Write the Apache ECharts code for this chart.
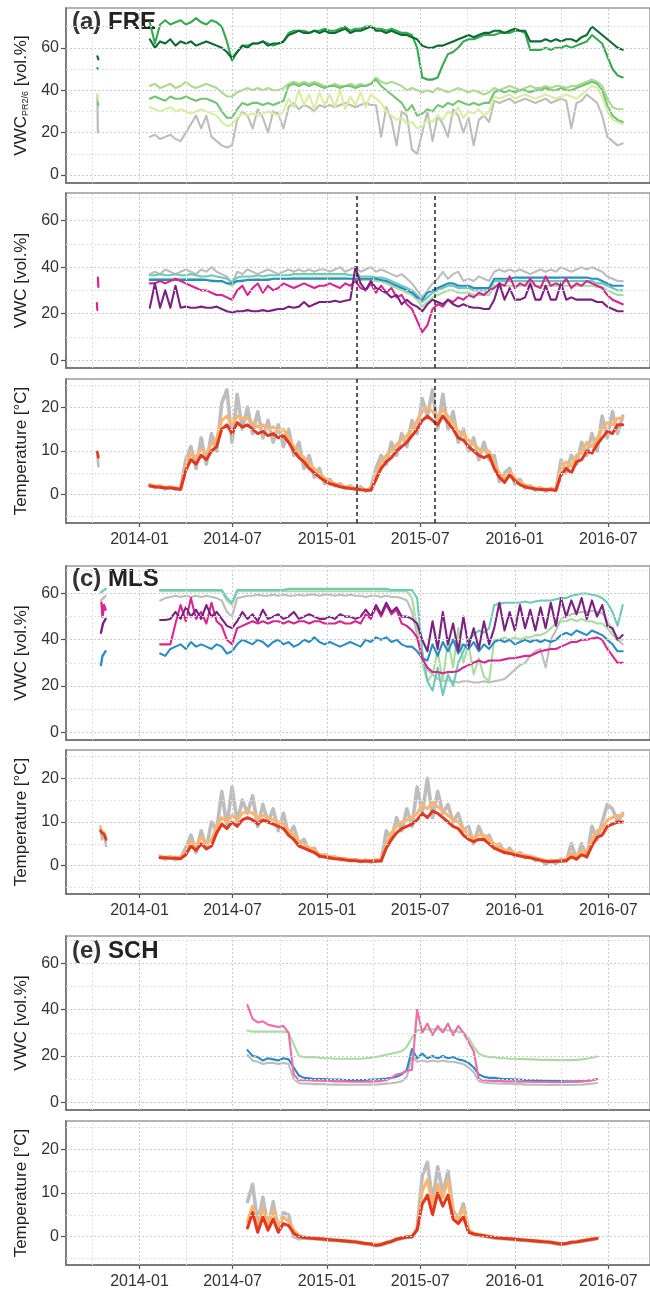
<!DOCTYPE html>
<html>
<head>
<meta charset="utf-8">
<script src="https://cdn.jsdelivr.net/npm/echarts@6/dist/echarts.min.js"></script>
<style>
  html, body { margin: 0; padding: 0; background: #ffffff; }
  #chart { width: 650px; height: 1295px; }
</style>
</head>
<body>
<div id="chart"></div>
<script>
// Soil moisture and soil temperature at three sites (FRE, MLS, SCH).
// Main records are sampled every 10 days starting on START.
const START = '2014-01-21';
const STEP_DAYS = 10;

// axis ticks and grid
const X_MAJOR = ['2014-01-01', '2014-07-01', '2015-01-01', '2015-07-01', '2016-01-01', '2016-07-01'];
const X_MINOR = ['2013-10-01', '2014-04-01', '2014-10-01', '2015-04-01', '2015-10-01', '2016-04-01'];
const X_RANGE = ['2013-08-11', '2016-09-20'];
const VWC_TICKS = [0, 20, 40, 60];
const VWC_MINOR = [10, 30, 50, 70];
const TEMP_TICKS = [0, 10, 20];
const TEMP_MINOR = [-5, 5, 15, 25];
const CAMPAIGN_DATES = ['2015-02-28', '2015-07-30'];

// ---- (a) FRE, VWC PR2/6 probe (start index 0) ----
const frePR_dark = [64,60,63,62,64,61,63, 62,63,61,62,63,62, 61,60,58,55, 58,61,60,62, 62,63,61,62,62,63, 66,67,68,67,67,68,67, 68,67,67,68,69,67,68, 68,69,70,68,68,67,68, 67,66,66,65,64, 61,60,60,61,61, 62,63,64, 65,66,65,66,67,67, 68,68,67,68,69,68,68, 63,63,63,64,63,64,63,64,64,63, 65,66,70,68,66, 64,62,60,59];
const frePR_green = [72,62,71, 73,71,72,73,71,72,74,72,71,73, 72,70,63,54, 58,61,61,62,62,63,62,61,62,63, 67,68,68,68,67,68,68, 69,68,68,69,70,68,69, 69,70,70,69,69,68,69, 68,67,67,66,60, 46,45,45,46,52, 57,58,60, 63,64,64,65,66,66, 66,67,67,67,68,68,67, 59,59,59,60,59,60,60,61,60,61, 62,63,66,64,62, 56,50,47,46];
const frePR_light = [42,43,41,42,43,41,42,44,42,41,42,43,42, 41,39,37,37,39, 40,41,40,41,40,41,40,40,41, 43,44,43,44,43,44,43, 42,42,43,42,42,43,42,43,42,43, 46,44,43,44, 43,42,40,41,40,39, 40,39,41,40,39,40,41,40,39,40,39,38,39, 41,40,41,42,41,40,41,42,41,41,42,41,42,42,41,42,42,43, 44,45,44,42, 36,32,31,31];
const frePR_mid = [36,37,36,35,37,36,36,37,36,35,36,36,35, 34,30,27,27,31, 34,33,34,34,33,34,33,34,35, 42,43,42,43,42,43,42, 41,42,42,41,42,42,41,42,42,43, 45,42,40,38, 36,34,30,33,28,29, 31,30,33,32,34,33,35,34,33,34,33,34,34, 39,40,39,40,39,40,40,39,40,40,41,40,40,41,40,40,41,42, 43,44,43,40, 33,28,26,25];
const frePR_yellow = [32,31,30,31,32,30,31,30,29,30,31,30,29, 28,25,23,24, 27,29,28,29,28,29,30,29,28,30, 36,32,40,33,38,31,39, 33,38,32,40,31,37,33,39,32,38, 36,34,30,28,26,27,24,25,22,23, 26,25,28,26,30,28,32,27,30,29,31,28,30, 37,36,37,38,36,37,38,37,36,37,38,37,36,37,38,37,36,38, 40,42,41,37, 30,26,25,24];
const frePR_gray = [18,19,17,18,19,17,16, 20,24,28,22,28,18, 16,14,13,14,26,30, 28,22,31,27,20,30,29,22, 32,34,31,33,32,30,33, 32,33,32,33,34,33,32,33,34,33, 33,18,32,26,14,30,28,12,10,20, 30,16,28,24,18,31,28,20,27,14,26,28,25, 35,34,35,36,34,35,36,35,34,35,36,34,35,36,35,22,34,35, 38,36,34,28, 18,16,14,15];
// short autumn 2013 record
const frePR_dark_2013 = [['2013-10-11', 56], ['2013-10-13', 54.5]];
const frePR_green_2013 = [['2013-10-11', 50.5], ['2013-10-12', 50]];
const frePR_yellow_2013 = [['2013-10-11', 38], ['2013-10-13', 36]];
const frePR_mid_2013 = [['2013-10-12', 34], ['2013-10-13', 33]];
const frePR_gray_2013 = [['2013-10-11', 38], ['2013-10-12', 20], ['2013-10-13', 21]];

// ---- FRE, VWC (start index 0) ----
const freV_gray = [37,38,37,39,38,37,38,39,38,37,39,38,40,38,37,36, 33, 38,37,39,38,37,38,39,38,37,38,39,38,39,38,39,38,39, 39,38,39,40,38,39,40,38,39,40,38,39, 38,37,36,37,35,33,30, 27,30,33,35, 38,35,37,38,34,35,34,36,35,34, 38,39,38,39,38,39,38,37,38,39,38,39,38,40,39,38,39,40,39,40,39,38, 36,35,34,34];
const freV_teal = [36.5,36.5,37,36.5,36.5,37,36.5,36.5,37,36.5,36,36,36.5,36,35.5,35, 33.5, 35.5,36,36,36,36.5,36,36.5,36.5,36.5,36.5, 36.5,37,37,37,37,37,37,37,37,37, 37,37,36.5,36.5,36,36,36,35.5,35.5, 35,34,33,32,31,30,28, 25,27,29,30, 31,32,32,31,31,31,30,30,30,30, 34,34,34,34,34,34,34,34,34,34, 34,34,34,34,34,34,34,34,34,34, 33,33, 32,31,30,30];
const freV_lgreen = [35,35,35,35,35,35,35,35,35,35,35,34.5,34.5,34,34,33,32, 34,34.5,34.5,34.5,35,34.5,35,35,35,35, 35,35.5,35.5,35.5,35.5,35.5,35.5,35.5,35.5,35.5, 35.5,35.5,35,35,34.5,34.5,34.5,34,34, 33,32,31,30,29,28,26, 23,25,27,28, 29,30,30,29,29,29,28,28,28,28, 32,32,32,32,32,32,32,32,32,32, 32,32,32,32,32,32,32,32,32,32, 31.5,31.5, 30,29,28,28];
const freV_blue = [34.5,34.5,34.5,34.5,34.5,34.5,34.5,34.5,34.5,34.5,34.5,34.5,34,34,34,33,33, 34,34,34.5,34.5,34.5,34.5,34.5,35,35,35, 35,35,35,35,35,35,35,35,35,35, 35,35,35,35,35,35,35,35,34.5, 34,33,32,31,30,29,27, 26,29,30,31, 32,33,33,32,32,32,31,31,31,31, 35,35,35,35, 35.5,35.5,35.5,35.5,35.5,35.5,35.5,35.5,35.5,35.5,35.5,35.5,35.5,35.5,35.5, 35,35,34, 33,32,32,32];
const freV_magenta = [33,33,34,33,34,35,34,33,32,31,30,30,29,28,28,27,26, 30,32,28,31,33,29,32,30,31,33,32,31,32,33,32,31,32, 32,33,32,31,33,32,34,31,30,33,29,32, 29,31,27,28,24,22,17, 12,15,22,24,23,26,25,27,26,28,27,29,28,30, 31,33,32,36,31,33,32,35,32,31,36,32,33,32,35,31,33,32,34,33,32,31, 28,26,25,24];
const freV_purple = [22.5,33,22.5,30,22.5,32,22.5,23,22.5,22.5,23,22.5,22.5,23,22,21,20.5, 21,21,21.5,21,21,21.5,21,21.5,22,22,23,22.5,23,25,23,24,25, 25,25,25.5,25,25.5,26,40,33,30,34,31,30, 29,27,28,24,26,24,23, 21,24,26,25, 24,26,24,23,24,23,22.5,22.5,22,22, 26,33,26,31,26,26,27,33,26,26,32,26,26,33,26,27,26,26,26,26,25,25, 23,22,21,21];
const freV_magenta_2013 = [['2013-10-12', 35.5], ['2013-10-13', 31.5], ['2013-10-14', null], ['2013-10-10', 24.5], ['2013-10-11', 21.6]];

// ---- FRE, soil temperature (start index 0) ----
const freT_red = [2.0,1.8,1.7,1.5,1.5,1.4,1.2,5.5,8,7, 9,8,10,11,15,16,14,16.5,15.5,16, 15,14,14.5,13.5,14,13,13.5,12,10,8.5, 7.5,6,5,4,3.2,2.5,2.2,1.8,1.6,1.4, 1.3,1.1,1.0,1.0,3.5,6,7.5,8.5,10,11, 12,13.5,15,17,18,17,16,18,16.5,15, 13,12.5,11,10,9,8.5,9,6,4,2.8, 4.5,3.2,2.3,1.8,1.5,1.3,1.2,1.1,1.1,1.0, 4.5,6,5,7.5,8,10,9.5,11.5,13,14.5, 14,16,16];
const freT_orange = [2.2,2.0,1.9,1.7,1.7,1.6,1.4,6.5,9.5,8.5, 10.5,9.5,11.5,13,17,18,16,18,17.5,17.5, 16.5,15.5,16,15,15.5,14.5,15,13,11,9.5, 8.5,7,6,4.8,3.8,3,2.5,2,1.8,1.6, 1.5,1.3,1.2,1.2,4.5,7.5,9,10,11.5,12.5, 13.5,15,17,19,20,19,17.5,19.5,18,16.5, 14.5,14,12.5,11.5,10.5,10,10,7,5,3.4, 5.2,3.8,2.8,2.2,1.8,1.5,1.4,1.3,1.3,1.2, 6,7.5,6.5,9,9.5,12,11,13,15,16.5, 16,17.5,17.5];
const freT_gray = [2.3,1.6,2.0,1.3,1.8,1.2,1.5,8,11,6, 13,7,14,10,21,24,12,23,15,20, 14,19,13,17,12,16,11,15,9,12, 6,9,4,6,2.5,3.5,2,2.5,1.5,2, 1.2,1.8,0.8,1.5,6,9,7,12,9,14, 11,17,14,22,18,24,15,23,15,19, 12,15,10,13,8,12,8,9,3,5, 6,2.5,3.5,1.5,2,1,1.6,0.8,1.4,0.9, 8,5,9,7,12,9,14,10,18,13, 19,14,18];
const freT_red_2013 = [['2013-10-11', 9.8], ['2013-10-13', 8.5]];
const freT_orange_2013 = [['2013-10-11', 9.5], ['2013-10-13', 8.8]];
const freT_gray_2013 = [['2013-10-11', 9], ['2013-10-13', 6.5]];

// ---- (c) MLS, VWC (start index 2) ----
const mlsV_gray = [57,58,58.5,59,58.5,59,58.5,59,58.5,59,58.5,58,57, 52,50, 58,58.5,59,59,59.5,59,59,59.5,59,59.5, 59,59,59.5,59,59.5,59.5,59,59.5,59.5,59, 59.5,59,59.5,59,59,58.5,59,59,58.5,59, 58.5,58.5,58,57, 52,42,32,27,25, 23,22,22.5,22,21.5,22,22,21.5,21.5,22,21.5, 22,22.5,23,25,27,29,30,33,35,36,28, 40,44,49,50,51,51.5,52,52,52.5,52,51.5, 48,44,40,38];
const mlsV_lgreen = [61,61,61,61,61,61,61,61,61,61, 61,61,61,57,55,61,61,61,61,61, 61,61,61,61,61,61,61,61,61,61, 61,61,61,61,61,61,61,61,61,61, 61,61,61,61,61,61,61,61,61, 58,45,30,22, 25,35,22,40,28,45,30,38,25,32,24,22, 40,40,41,40,41,40,41,41,42,42,43,45,47, 48,48,49,48,49,48,48,47,47, 45,42,40,40];
const mlsV_teal = [61.5,61.5,61.5,61.5,61.5,61.5,61.5,61.5,61.5,61.5,61.5,61.5,61.5, 58,56, 61.5,61.5,61.5,61.5,61.5,61.5,61.5,61.5,61.5,61.5, 62,62,62,62,62,62,62,62,62,62, 62,62,62,62,62,62,62,62,62,62, 61.5,61.5,61.5,61.5,61.5, 58,35,22, 18,28,16,25,20,30, 35,40,42,44,43,45, 55,55.5,56,56,56,56,56.5,56,56.5,57,57, 57,57.5,58,58,59,59.5,60,60,59.5,59,58, 56,52,46,55];
const mlsV_blue = [34,33,36, 37,38,36,39,37,38,37,36,38,37, 34,35, 38,40,39,38,40,39,37,39,40,38,39,37,38,40,39,41,39, 38,39,38,37,38,39,38,37, 40,39,41,40,41,39,40, 38,37,37,35, 32,31, 38,33,39,35,40,34,38,36,39,35,38,36, 39,40,39,40,38,39,40,39,40,39,40,39,40, 42,43,42,44,43,42,44,43,42, 40,38,35,35];
const mlsV_magenta = [38,38,38, 47,55,48,58,49,52,47,56,48,46, 40,38, 45,46,47,48,47,48,47,48,48,47,48,47,48,48,47,48,48, 47,47,47,48,47,47,48,47, 51,49,54,50,55,51,53, 47,46,44,41, 32,28, 26,26,25.5,26,26,26.5,28,29,30,31,30,31, 31,31,31.5,32,32,32.5,33,33,34,35,35.5,36,36, 37,38,39,39,40,40,40.5,41,40, 36,33,30,30];
const mlsV_purple = [48.5,48.5,49, 52,49,54,50,53,49,55,50,52,49, 46,45, 48,52,49,51,48,53,49,50,51,49,50,52,49,50,51,50,49, 49,50,49,51,50,50,49,50, 53,50,55,51,56,52,54, 50,50,49,47, 40,35, 48,36,52,38,47,35,50,37,45,36,48,38, 45,56,44,52,44,55,45,53,44,54,45,56,46, 58,50,57,51,58,49,57,50,55, 46,45,40,42];
const mlsV_teal_2013 = [['2013-10-18', 60.5], ['2013-10-27', 62]];
const mlsV_gray_2013 = [['2013-10-18', 57], ['2013-10-27', 59]];
const mlsV_magenta_2013 = [['2013-10-19', 56], ['2013-10-21', 50], ['2013-10-24', 55], ['2013-10-27', 53]];
const mlsV_purple_2013 = [['2013-10-18', 43], ['2013-10-22', 47], ['2013-10-27', 49]];
const mlsV_blue_2013 = [['2013-10-18', 29], ['2013-10-21', 33], ['2013-10-24', 34], ['2013-10-27', 35]];

// ---- MLS, soil temperature (start index 2) ----
const mlsT_red = [1.8,1.8,1.7,1.7,1.6,2.5,4.5,3.5,5,3.8, 4.5,7.5,9.5,8.5,10,9,10.5,11,10.5,9.5, 10.5,10,9.5,9,8.5,7,6,4.5,4,3.5, 3,2.2,2,1.8,1.6,1.5,1.3,1.2,1.1,1.0, 1.0,1.0,1.0,1.1,4,6,7.5,8.5,9,9.5, 10.5,12,11,12.5,12,11,10,9,8.5,7, 6,5.5,6,6,5,4,3.5,3,2.8,2.5, 2.2,2,1.8,1.5,1.2,1.0,0.9,1.0,1.0,1.2, 2,1.5,2.5,2,4.5,6.5,7,9,9.5,10, 10];
const mlsT_orange = [2,2,1.9,1.9,1.8,3,5.5,4.5,6.5,5, 6,9,11,10,11.5,10.5,12,12.5,12,11, 11.5,11,10.5,10,9.5,8,7,5.5,4.8,4.2, 3.5,2.6,2.3,2.1,1.9,1.7,1.5,1.4,1.3,1.2, 1.2,1.2,1.2,1.3,5,7.5,9,10,10.5,11, 12,14,13,14.5,13.5,12.5,11.5,10.5,10,8.5, 7,6.5,7,7,6,5,4.2,3.6,3.3,3, 2.6,2.4,2.1,1.8,1.4,1.2,1.1,1.2,1.2,1.5, 2.8,2,3.5,2.8,6,8,8.5,10.5,11,11.5, 11.5];
const mlsT_gray = [2.2,1.5,2.0,1.4,1.8,4,7,3,8,4, 10,8,17,9,18,10,15,12,16,9, 14,10,13,8,12,7,9,5,6,3.5, 4,2,2.5,1.6,2,1.3,1.6,1.1,1.4,0.9, 1.3,0.8,1.4,1,8,6,11,8,13,9, 18,12,20,11,17,12,14,10,12,8, 9,5,9,6,7,4,5,3,4,2.2, 3,1.8,2.2,1.2,1.5,0.3,1.2,0.5,1.5,1.0, 5,1.5,5,2,9,6,10,14,13,10, 12];
const mlsT_red_2013 = [['2013-10-17', 8], ['2013-10-20', 7.5], ['2013-10-24', 7.2], ['2013-10-28', 6]];
const mlsT_orange_2013 = [['2013-10-17', 8.5], ['2013-10-20', 8], ['2013-10-24', 7.6], ['2013-10-28', 6.5]];
const mlsT_gray_2013 = [['2013-10-17', 9], ['2013-10-20', 6], ['2013-10-24', 7.5], ['2013-10-28', 4.5]];

// ---- (e) SCH, VWC (start index 19) ----
const schV_gray = [20.5, 18,17.5,16.5,17,17,16.5,17,16.5, 10,8.2, 8,8,7.8,7.8,7.8,7.6,7.6,7.6,7.5,7.5,7.5,7.5,7.5,7.6,7.6,7.8,8,8.2, 8.5,9,11,20, 17.5,18,17.5,18,17.5,18,17.5,17.5,17,16.5, 15,13,9, 8.5,8.2,8.2,8,8,8,7.8,7.8,7.6,7.6,7.5,7.5,7.4,7.4,7.4,7.4,7.4,7.4,7.5,7.6,7.8,8,8.3];
const schV_lgreen = [31,30.5,30.5,30.5,30.5,30.5,30.5,30.5,30, 25,20, 19.5,19.5,19.5,19.2,19,19,18.8,18.8,18.8,18.8,18.8,18.8,19,19.2,19.5,20,20.5,21,21.5, 22,24,28, 31,31.5,31.5,31.5,31.5,31.5,31,31,30.5,30, 28,24,21, 20,19.5,19.5,19,19,18.8,18.8,18.6,18.6,18.5,18.5,18.3,18.3,18.3,18.2,18.2,18.2,18.2,18.3,18.5,18.8,19.2,19.8];
const schV_blue = [22.5, 20,19.5,18,19,18.5,18,19,18.5, 15,11.5, 10.5,10.3,10,10,10,9.8,9.8,9.8,9.6,9.6,9.6,9.6,9.6,9.8,9.8,10,10.2,10.5, 11,12,14,23, 19,21,19,20,19,20,19,19.5,18.5,18, 17,15,12, 11,10.5,10.5,10.2,10,10,9.8,9.8,9.6,9.5,9.4,9.3,9.2,9.2,9.1,9.1,9.0,9.0,9.0,9.1,9.2,9.5,10];
const schV_pink = [42,36,34.5,35,33.5,33,32.5,33,30,12,9.5, 9.5,9.5,9.3,9.3,9.2,9.2,9.0,9.0,9.0,8.8,8.8,8.8,8.8,8.8,9.0, 9.2,9.5,10.5,12,12.5,13.5,14, 40,30,34,29,33,30,34,29,33,30, 26,22,10,9.5, 9.3,9.2,9.2,9.0,9.0,9.0,8.8,8.8,8.8,8.7,8.7,8.7,8.6,8.6,8.6,8.7,8.8,8.9,9.0,9.2,9.5,10];

// ---- SCH, soil temperature (start index 19) ----
const schT_red = [2,5.5,1,4.5,1.5,4,1,3,2.5,0.8,0, -0.2,-0.3,-0.4,-0.5,-0.6,-0.7,-0.8,-0.9,-1.0,-1.1,-1.2,-1.4,-1.6,-1.7,-2.0,-1.8,-1.4,-1.1,-0.6,-0.3,-0.1,0,1.5, 7.5,9.5,5,10,7,9.5,4,3,4.5,1,0.6,0.4, 0.2,0,-0.2,-0.3,-0.4,-0.5,-0.6,-0.7,-0.8,-0.9,-1.0,-1.1,-1.2,-1.3,-1.5,-1.7,-1.6,-1.3,-1.2,-1.0,-0.8,-0.6,-0.4];
const schT_orange = [3.5,7,2,6.5,3,6,2,4.5,3.5,1.5,0.3, -0.1,-0.2,-0.3,-0.4,-0.5,-0.6,-0.7,-0.8,-0.9,-1.0,-1.1,-1.3,-1.5,-1.6,-1.8,-1.7,-1.3,-1.0,-0.5,-0.2,0,0.1,1.5, 10.5,13,7,12,9,13,5.5,4,6.5,1.5,0.8,0.5, 0.3,0.1,-0.1,-0.2,-0.3,-0.4,-0.5,-0.6,-0.7,-0.8,-0.9,-1.0,-1.1,-1.2,-1.4,-1.6,-1.5,-1.2,-1.1,-0.9,-0.7,-0.5,-0.3];
const schT_gray = [8,12,3,9,2,8,1.5,5.5,5,0,-0.5, -0.3,-0.4,-0.5,-0.6,-0.7,-0.8,-0.9,-1.0,-1.1,-1.2,-1.3,-1.5,-1.7,-1.8,-2.1,-1.9,-1.5,-1.2,-0.7,-0.4,-0.2,-0.1,2, 14,17,8,16,10,15,6,4,7.5,1.5,0.5,0.2, 0.1,-0.1,-0.3,-0.4,-0.5,-0.6,-0.7,-0.8,-0.9,-1.0,-1.1,-1.2,-1.3,-1.4,-1.6,-1.8,-1.7,-1.4,-1.3,-1.1,-0.9,-0.7,-0.5];

// ---------------------------------------------------------------
const FONT = '"Liberation Sans", Arial, Helvetica, sans-serif';
const DAY_MS = 86400000;
const stampOf = s => +echarts.time.parse(s);   // date string -> ms
const t0 = stampOf(START);

// pair each reading with its date; `first` is the index of the first reading
function series10d(values, first) {
  return values.map((v, i) => [t0 + (first + i) * STEP_DAYS * DAY_MS, v]);
}
function dated(pairs) {
  return pairs.map(p => [stampOf(p[0]), p[1]]);
}

const C = {
  gray: '#bdbdbd',
  pr_yellow: '#d8eea0', pr_light: '#aadb8e', pr_mid: '#74c476', pr_green: '#35a94f', pr_dark: '#0b6b32',
  lgreen: '#a9dca1', teal: '#6ccab8', blue: '#2b8cc4', magenta: '#d9268f', purple: '#7b2281',
  pink: '#f06ba8', orange: '#fdb46b', red: '#e2381f'
};

// panel layout: pixel boxes of the seven plotting areas
const PANELS = [
  { top: 8,    height: 175, ymin: -3.75, ymax: 78.75, kind: 'vwc',  xlabels: false, name: '{m|VWC}{s|PR2/6}{m| [vol.%]}' },
  { top: 193,  height: 175, ymin: -3.4,  ymax: 71.9,  kind: 'vwc',  xlabels: false, name: 'VWC [vol.%]' },
  { top: 379,  height: 144, ymin: -6.5,  ymax: 26.5,  kind: 'temp', xlabels: true,  name: 'Temperature [°C]' },
  { top: 566,  height: 174, ymin: -3.4,  ymax: 71.9,  kind: 'vwc',  xlabels: false, name: 'VWC [vol.%]' },
  { top: 750,  height: 144, ymin: -6.5,  ymax: 26.5,  kind: 'temp', xlabels: true,  name: 'Temperature [°C]' },
  { top: 936,  height: 174, ymin: -3.4,  ymax: 71.9,  kind: 'vwc',  xlabels: false, name: 'VWC [vol.%]' },
  { top: 1121, height: 144, ymin: -6.5,  ymax: 26.5,  kind: 'temp', xlabels: true,  name: 'Temperature [°C]' }
];

const xTickValues = X_MAJOR.map(stampOf);

const grids = PANELS.map(p => ({
  left: 66, width: 586, top: p.top, height: p.height,
  show: true, backgroundColor: '#ffffff', borderColor: '#9a9a9a', borderWidth: 1.5
}));

// dates are stored as millisecond stamps on a linear axis
const xAxes = PANELS.map((p, i) => ({
  type: 'value', gridIndex: i,
  min: stampOf(X_RANGE[0]), max: stampOf(X_RANGE[1]),
  splitLine: { show: false },
  axisLine: { show: true, onZero: false, lineStyle: { color: '#6a6a6a', width: 1.5 } },
  axisTick: { show: p.xlabels, customValues: xTickValues, length: 4, lineStyle: { color: '#555', width: 1.2 } },
  axisLabel: {
    show: p.xlabels, customValues: xTickValues,
    formatter: v => echarts.time.format(v, '{yyyy}-{MM}', false),
    fontSize: 16, color: '#333', fontFamily: FONT, margin: 9
  }
}));

const yAxes = PANELS.map((p, i) => {
  const ticks = p.kind === 'vwc' ? VWC_TICKS : TEMP_TICKS;
  return {
    type: 'value', gridIndex: i, min: p.ymin, max: p.ymax,
    splitLine: { show: false },
    axisLine: { show: true, onZero: false, lineStyle: { color: '#6a6a6a', width: 1.5 } },
    axisTick: { show: true, customValues: ticks, length: 5, lineStyle: { color: '#555', width: 1.2 } },
    axisLabel: { customValues: ticks, fontSize: 16, color: '#333', fontFamily: FONT, margin: 7 },
    name: p.name, nameLocation: 'middle', nameGap: 35,
    nameTextStyle: {
      fontSize: 17, color: '#222', fontFamily: FONT,
      rich: {
        m: { fontSize: 17, color: '#222', fontFamily: FONT },
        s: { fontSize: 9, color: '#222', fontFamily: FONT, verticalAlign: 'bottom' }
      }
    }
  };
});

// dotted background grid, drawn under the data
function guides(gi) {
  const p = PANELS[gi];
  const yMajor = p.kind === 'vwc' ? VWC_TICKS : TEMP_TICKS;
  const yMinor = p.kind === 'vwc' ? VWC_MINOR : TEMP_MINOR;
  const maj = { color: '#cbcbcb', type: [2, 2], width: 1 };
  const min = { color: '#e1e1e1', type: [2, 2], width: 1 };
  const d = [];
  X_MINOR.forEach(s => d.push({ xAxis: stampOf(s), lineStyle: min }));
  yMinor.forEach(v => d.push({ yAxis: v, lineStyle: min }));
  X_MAJOR.forEach(s => d.push({ xAxis: stampOf(s), lineStyle: maj }));
  yMajor.forEach(v => d.push({ yAxis: v, lineStyle: maj }));
  return {
    type: 'line', xAxisIndex: gi, yAxisIndex: gi, data: [], z: 1, silent: true, animation: false,
    markLine: { silent: true, symbol: ['none', 'none'], label: { show: false }, animation: false, data: d }
  };
}

// field-campaign markers (black dashed verticals)
function campaigns(gi) {
  return {
    type: 'line', xAxisIndex: gi, yAxisIndex: gi, data: [], z: 6, silent: true, animation: false,
    markLine: {
      silent: true, symbol: ['none', 'none'], label: { show: false }, animation: false,
      data: CAMPAIGN_DATES.map(s => ({ xAxis: stampOf(s), lineStyle: { color: '#333', type: [4, 3], width: 1.6 } }))
    }
  };
}

function line(gi, data, color, width, z) {
  return {
    type: 'line', xAxisIndex: gi, yAxisIndex: gi, data: data,
    showSymbol: false, symbol: 'none', connectNulls: false, silent: true, animation: false,
    lineStyle: { color: color, width: width, cap: 'round', join: 'round' },
    itemStyle: { color: color }, z: z || 3
  };
}

const W = 2.1, WT = 3, WG = 3.6;
const series = [];
for (let g = 0; g < 7; g++) series.push(guides(g));
series.push(campaigns(1), campaigns(2));

// (a) FRE VWC PR2/6
[[frePR_gray, frePR_gray_2013, C.gray], [frePR_yellow, frePR_yellow_2013, C.pr_yellow],
 [frePR_light, null, C.pr_light], [frePR_mid, frePR_mid_2013, C.pr_mid],
 [frePR_green, frePR_green_2013, C.pr_green], [frePR_dark, frePR_dark_2013, C.pr_dark]
].forEach(([v, e, c]) => {
  series.push(line(0, series10d(v, 0), c, W));
  if (e) series.push(line(0, dated(e), c, 2.2));
});

// FRE VWC
[[freV_gray, C.gray], [freV_teal, C.teal], [freV_lgreen, C.lgreen], [freV_blue, C.blue],
 [freV_magenta, C.magenta], [freV_purple, C.purple]
].forEach(([v, c]) => series.push(line(1, series10d(v, 0), c, W)));
series.push(line(1, dated(freV_magenta_2013), C.magenta, 2.2));

// FRE temperature
[[freT_gray, freT_gray_2013, C.gray, WG], [freT_orange, freT_orange_2013, C.orange, WT], [freT_red, freT_red_2013, C.red, WT]]
  .forEach(([v, e, c, w]) => {
    series.push(line(2, series10d(v, 0), c, w));
    series.push(line(2, dated(e), c, 2.6));
  });

// (c) MLS VWC
[[mlsV_gray, mlsV_gray_2013, C.gray], [mlsV_lgreen, null, C.lgreen], [mlsV_teal, mlsV_teal_2013, C.teal],
 [mlsV_blue, mlsV_blue_2013, C.blue], [mlsV_magenta, mlsV_magenta_2013, C.magenta], [mlsV_purple, mlsV_purple_2013, C.purple]
].forEach(([v, e, c]) => {
  series.push(line(3, series10d(v, 2), c, W));
  if (e) series.push(line(3, dated(e), c, 2.4));
});

// MLS temperature
[[mlsT_gray, mlsT_gray_2013, C.gray, WG], [mlsT_orange, mlsT_orange_2013, C.orange, WT], [mlsT_red, mlsT_red_2013, C.red, WT]]
  .forEach(([v, e, c, w]) => {
    series.push(line(4, series10d(v, 2), c, w));
    series.push(line(4, dated(e), c, 2.6));
  });

// (e) SCH VWC
[[schV_gray, C.gray], [schV_lgreen, C.lgreen], [schV_blue, C.blue], [schV_pink, C.pink]]
  .forEach(([v, c]) => series.push(line(5, series10d(v, 19), c, W)));

// SCH temperature
[[schT_gray, C.gray, WG], [schT_orange, C.orange, WT], [schT_red, C.red, WT]]
  .forEach(([v, c, w]) => series.push(line(6, series10d(v, 19), c, w)));

// panel captions
function caption(tag, site, top) {
  return {
    text: '{n|' + tag + ' }{b|' + site + '}', left: 72, top: top, padding: 0, z: 0,
    textStyle: {
      rich: {
        n: { fontSize: 24, color: '#333', fontFamily: FONT },
        b: { fontSize: 24, color: '#222', fontFamily: FONT, fontWeight: 'bold' }
      }
    }
  };
}

const chart = echarts.init(document.getElementById('chart'), null, { renderer: 'canvas' });
chart.setOption({
  animation: false,
  backgroundColor: '#ffffff',
  title: [caption('(a)', 'FRE', 10), caption('(c)', 'MLS', 567), caption('(e)', 'SCH', 939)],
  grid: grids,
  xAxis: xAxes,
  yAxis: yAxes,
  series: series
});
</script>
</body>
</html>
